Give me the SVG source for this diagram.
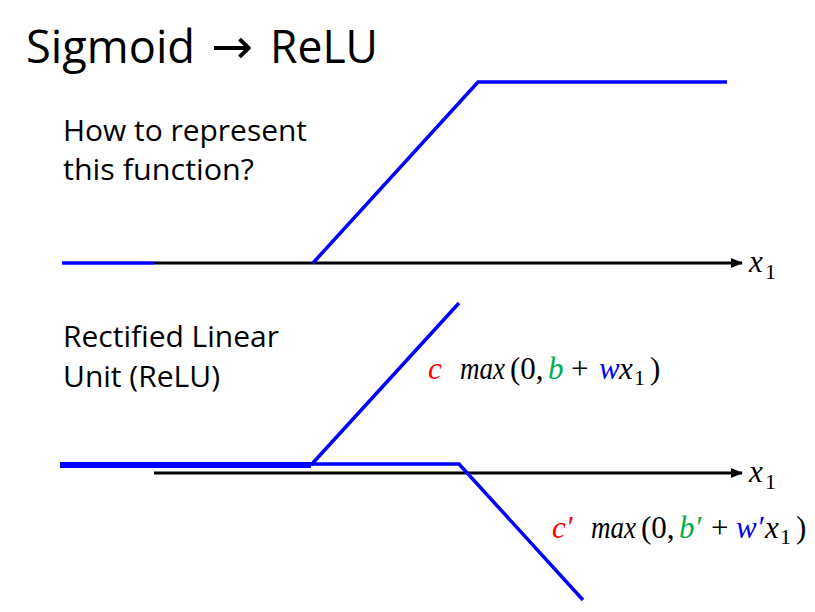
<svg xmlns="http://www.w3.org/2000/svg" width="815" height="612" viewBox="0 0 815 612">
<style>
.t{font-family:"Open Sans","Liberation Sans",sans-serif;fill:#000}
.m{font-family:"Liberation Serif",serif;font-size:31px;fill:#000}
.i{font-style:italic}
.s{font-size:22px}
.r{fill:#FF0000}.g{fill:#00B050}.b{fill:#0000FF}
.axis{stroke:#000;stroke-width:3;fill:none}
.blue{stroke:#0000FF;stroke-width:3.5;fill:none}
</style>
<defs>
<marker id="ah" markerWidth="12" markerHeight="10" refX="11" refY="5" orient="auto" markerUnits="userSpaceOnUse">
<path d="M0,0 L12,5 L0,10 Z" fill="#000"/>
</marker>
</defs>
<rect width="815" height="612" fill="#fff"/>
<text id="title" class="t" y="63" font-size="45"><tspan x="26" textLength="169" lengthAdjust="spacingAndGlyphs">Sigmoid</tspan><tspan x="211" font-family="DejaVu Sans, sans-serif" font-size="48" textLength="42" lengthAdjust="spacingAndGlyphs">→</tspan><tspan x="270" textLength="108" lengthAdjust="spacingAndGlyphs">ReLU</tspan></text>
<g id="q">
<text class="t" x="63" y="141" font-size="30" textLength="244" lengthAdjust="spacingAndGlyphs">How to represent</text>
<text class="t" x="63" y="180" font-size="30" textLength="191" lengthAdjust="spacingAndGlyphs">this function?</text>
</g>
<g id="relu-label">
<text class="t" x="63" y="347" font-size="30" textLength="216" lengthAdjust="spacingAndGlyphs">Rectified Linear</text>
<text class="t" x="63" y="387" font-size="30" textLength="157" lengthAdjust="spacingAndGlyphs">Unit (ReLU)</text>
</g>
<g id="connectors">
<line class="axis" x1="154" y1="263" x2="742" y2="263" marker-end="url(#ah)"/>
<line class="axis" x1="154" y1="473" x2="742" y2="473" marker-end="url(#ah)"/>
</g>
<g id="top-func">
<line class="blue" x1="62" y1="263" x2="154" y2="263"/>
<polyline class="blue" points="313,263 478,82 727,82"/>
</g>
<g id="relu1">
<line stroke="#0000FF" stroke-width="6" x1="60" y1="465" x2="311" y2="465"/>
<polyline class="blue" points="311,465 459,303"/>
</g>
<g id="relu2">
<polyline class="blue" points="311,464 459,464 583,600"/>
</g>
<text id="x1a" class="m" y="272"><tspan x="749" class="i">x</tspan><tspan x="765" y="279" class="s">1</tspan></text>
<text id="x1b" class="m" y="482"><tspan x="749" class="i">x</tspan><tspan x="765" y="489" class="s">1</tspan></text>
<text id="f1" class="m" y="379"><tspan x="428" class="i r">c</tspan><tspan x="460" class="i" textLength="45" lengthAdjust="spacingAndGlyphs">max</tspan><tspan x="510">(0,</tspan><tspan x="548" class="i g">b</tspan><tspan x="571">+</tspan><tspan x="599" class="i b">w</tspan><tspan x="619" class="i">x</tspan><tspan x="634" y="385" class="s">1</tspan><tspan x="650" y="379">)</tspan></text>
<text id="f2" class="m" y="538"><tspan x="552" class="i r">c′</tspan><tspan x="591" class="i" textLength="45" lengthAdjust="spacingAndGlyphs">max</tspan><tspan x="641">(0,</tspan><tspan x="679" class="i g">b′</tspan><tspan x="711">+</tspan><tspan x="736" class="i b">w′</tspan><tspan x="765" class="i">x</tspan><tspan x="780" y="544" class="s">1</tspan><tspan x="796" y="538">)</tspan></text>
</svg>
